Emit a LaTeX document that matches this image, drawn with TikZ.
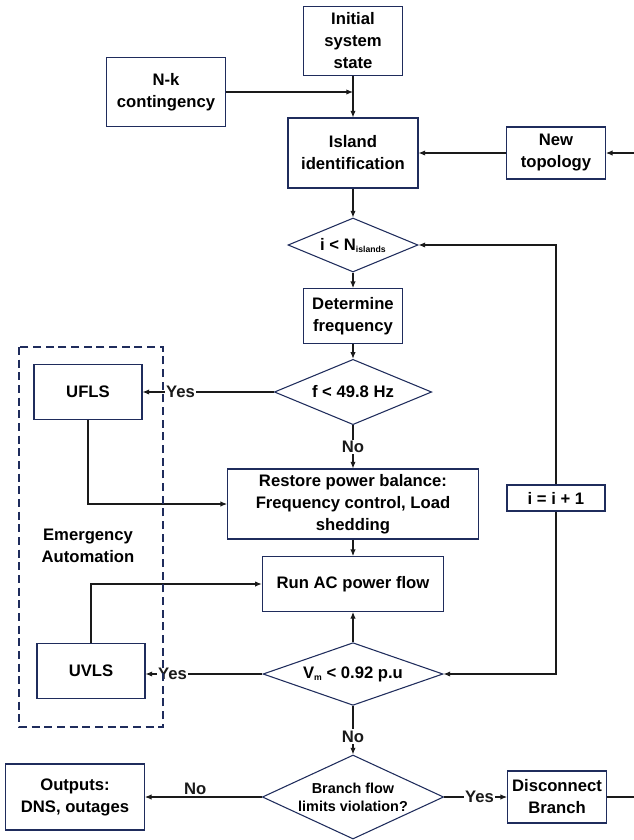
\documentclass[tikz,border=0pt]{standalone}
\usepackage{fontspec}
\setmainfont{Liberation Sans}
\usetikzlibrary{shapes.geometric,arrows.meta}
\definecolor{navy}{HTML}{1F2C5C}
\definecolor{wire}{HTML}{1A1A1A}
\newcommand{\lowsub}[1]{\raisebox{-1.5pt}{\fontsize{6.5}{7}\selectfont #1}}
\tikzset{
  box/.style={draw=navy, line width=0.8pt, fill=white, align=center, inner sep=0pt},
  decision/.style={diamond, draw=navy, line width=0.8pt, fill=white, inner sep=0pt},
  flow/.style={->, wire, line width=0.8pt},
  tag/.style={fill=white, inner sep=1pt},
}
\begin{document}
\begin{tikzpicture}[x=0.75pt, y=-0.75pt, >={Latex[length=5pt,width=4pt]},
    font=\fontsize{12.5}{16.5}\selectfont\bfseries]
    \useasboundingbox (0,0) rectangle (634,840);
    % Start and topology
    \node[box, minimum width=74pt, minimum height=52pt] (init) at (353,41) {Initial\\system\\state};
    \node[box, minimum width=89pt, minimum height=52pt] (nk) at (166,92) {N-k\\contingency};
    \node[box, minimum width=97.5pt, minimum height=52.5pt] (isl) at (353,153) {Island\\identification};
    \node[box, minimum width=74pt, minimum height=39pt] (topo) at (556,153) {New\\topology};
    \coordinate (topin) at (634,153);
    % Island loop
    \node[decision, minimum width=97.5pt, minimum height=40.5pt,
        label={center:i < N\lowsub{islands}}] (nisl) at (353,245) {};
    \node[box, minimum width=74pt, minimum height=41pt] (detf) at (353,316) {Determine\\frequency};
    \node[decision, minimum width=118pt, minimum height=49pt,
        label={center:f < 49.8 Hz}] (fdec) at (353,392) {};
    \node[box, minimum width=81pt, minimum height=41pt] (ufls) at (88,392) {UFLS};
    \node[box, minimum width=188pt, minimum height=52.5pt] (rest) at (353,504)
        {Restore power balance:\\Frequency control, Load\\shedding};
    \node[box, minimum width=73.5pt, minimum height=19.5pt] (incr) at (556,498) {i = i + 1};
    \node[align=center] (emtext) at (88,546) {Emergency\\Automation};
    \node[box, minimum width=136pt, minimum height=41pt] (run) at (353,584) {Run AC power flow};
    \node[box, minimum width=81pt, minimum height=41pt] (uvls) at (91,671) {UVLS};
    \node[decision, minimum width=135pt, minimum height=47pt,
        label={center:V\lowsub{m} < 0.92 p.u}] (vmdec) at (353,674) {};
    % Branch check
    \node[decision, minimum width=136pt, minimum height=63pt,
        label={[align=center, font=\fontsize{10.8}{13.5}\selectfont\bfseries]center:Branch flow\\limits violation?}] (brch) at (353,797) {};
    \node[box, minimum width=104pt, minimum height=49.5pt] (outp) at (75,797) {Outputs:\\DNS, outages};
    \node[box, minimum width=74pt, minimum height=39pt] (disc) at (557,797) {Disconnect\\Branch};
    \coordinate (discout) at (634,797);
    % Connectors
    \draw[flow] (init.south) -- (isl.north);
    \draw[flow] (nk.east) -- (nk.east -| init.south);
    \draw[flow] (topin) -- (topo.east);
    \draw[flow] (topo.west) -- (isl.east);
    \draw[flow] (isl.south) -- (nisl.north);
    \draw[flow] (nisl.south) -- (detf.north);
    \draw[flow] (detf.south) -- (fdec.north);
    \draw[flow] (fdec.west) -- node[tag, pos=0.71] {Yes} (ufls.east);
    \draw[flow] (fdec.south) -- node[tag] {No} (rest.north);
    \draw[flow] (ufls.south) |- (rest.west);
    \draw[flow] (rest.south) -- (run.north);
    \draw[flow] (vmdec.north) -- (run.south);
    \draw[flow] (uvls.north) |- (run.west);
    \draw[flow] (vmdec.west) -- node[tag, pos=0.77] {Yes} (vmdec.west -| uvls.east);
    \draw[flow, <-] (nisl.east) -| (incr.north);
    \draw[flow] (incr.south) |- (vmdec.east);
    \draw[flow] (vmdec.south) -- node[tag, pos=0.63] {No} (brch.north);
    \draw[flow] (brch.west) -- node[tag, pos=0.57, yshift=6pt] {No} (outp.east);
    \draw[flow] (brch.east) -- node[tag, pos=0.56] {Yes} (disc.west);
    \draw[wire, line width=0.8pt] (disc.east) -- (discout);
    % Emergency automation frame
    \draw[navy, line width=0.8pt, dash pattern=on 6pt off 3.5pt] (19,347) rectangle (163,727);
\end{tikzpicture}
\end{document}
